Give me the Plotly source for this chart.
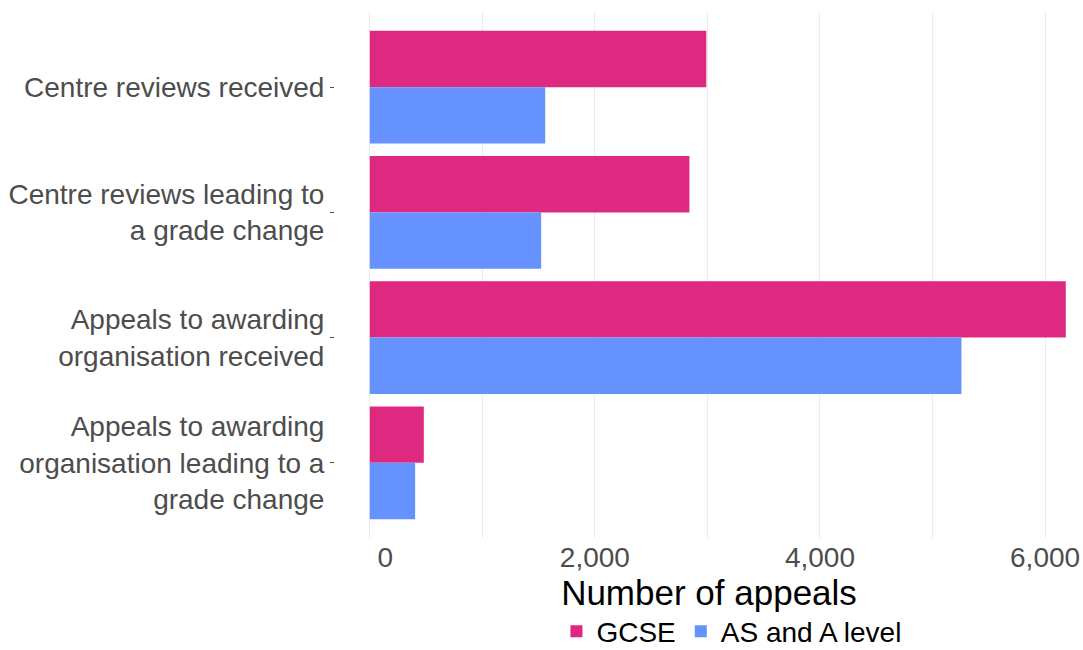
import plotly.graph_objects as go

categories = [
    "Centre reviews received",
    "Centre reviews leading to<br>a grade change",
    "Appeals to awarding<br>organisation received",
    "Appeals to awarding<br>organisation leading to a<br>grade change",
]
gcse = [2990, 2840, 6184, 480]
as_a_level = [1559, 1523, 5257, 403]
x_tickvals = [0, 2000, 4000, 6000]
x_ticktext = ["\u00a0\u00a0\u00a0\u00a00", "2,000", "4,000", "6,000"]

FONT = "Liberation Sans, Arial, sans-serif"

fig = go.Figure()
fig.add_trace(go.Bar(name="GCSE", y=categories, x=gcse, orientation="h",
                     marker=dict(color="#DE2981", line=dict(width=0))))
fig.add_trace(go.Bar(name="AS and A level", y=categories, x=as_a_level, orientation="h",
                     marker=dict(color="#6592FF", line=dict(width=0))))

fig.update_layout(
    width=1083, height=650,
    margin=dict(l=335, r=0, t=12, b=112, pad=0, autoexpand=False),
    paper_bgcolor="white", plot_bgcolor="white",
    barmode="group", bargap=0.1, bargroupgap=0,
    font=dict(family=FONT, size=28, color="#4d4d4d"),
    showlegend=True,
    legend=dict(orientation="h", x=0.53, xanchor="center", y=-0.178, yanchor="middle",
                font=dict(size=28, color="black"), traceorder="normal",
                itemwidth=30, tracegroupgap=0),
)
fig.update_xaxes(
    automargin=False,
    range=[-309, 6337],
    tickvals=x_tickvals, ticktext=x_ticktext,
    showgrid=True, gridcolor="#ebebeb", gridwidth=1,
    minor=dict(dtick=1000, tick0=0, showgrid=True, gridcolor="#ebebeb", gridwidth=1),
    zeroline=False, showline=False, ticks="",
    tickfont=dict(size=28, color="#4d4d4d"),
    title=dict(text="Number of appeals", font=dict(size=35, color="black"), standoff=0),
)
fig.update_yaxes(
    automargin=False,
    categoryorder="array", categoryarray=categories,
    range=[3.6, -0.6],
    showgrid=False, zeroline=False, showline=False,
    ticks="outside", ticklen=4, tickwidth=1, tickcolor="#4d4d4d",
    tickfont=dict(size=28, color="#4d4d4d"),
)

fig.write_html("out.html", config={"displayModeBar": False},
               post_script="document.body.style.margin='0';")
